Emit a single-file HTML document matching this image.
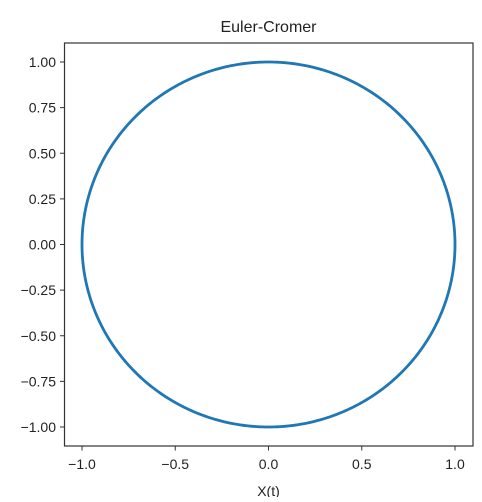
<!DOCTYPE html>
<html><head><style>
body{margin:0;background:#fff;}
svg text{font-family:"Liberation Sans","DejaVu Sans",sans-serif;fill:#222;}
</style></head><body>
<svg width="482" height="497">
<text x="268.5" y="32" font-size="16" text-anchor="middle">Euler-Cromer</text>
<g id="ticks"></g>
<path id="orbit" fill="none" stroke="#1f77b4" stroke-width="2.8"/>
<rect x="64.5" y="43" width="408.5" height="403" fill="none" stroke="#333" stroke-width="1.2"/>
<text x="268.5" y="496" font-size="14" text-anchor="middle">X(t)</text>
</svg>
<script>
const xTicks=[-1.0,-0.5,0.0,0.5,1.0];
const xTickLabels=["−1.0","−0.5","0.0","0.5","1.0"];
const yTicks=[1.0,0.75,0.5,0.25,0.0,-0.25,-0.5,-0.75,-1.0];
const yTickLabels=["1.00","0.75","0.50","0.25","0.00","−0.25","−0.50","−0.75","−1.00"];
const radius=[1.0];
const nPoints=[400];
function sx(v){return 268.5+v*186.5;}
function sy(v){return 244.5-v*182.5;}
const g=document.getElementById('ticks');
const NS='http://www.w3.org/2000/svg';
xTicks.forEach((v,i)=>{
 const l=document.createElementNS(NS,'line');
 l.setAttribute('x1',sx(v));l.setAttribute('x2',sx(v));l.setAttribute('y1',446);l.setAttribute('y2',450.5);
 l.setAttribute('stroke','#333');
 
 
 g.appendChild(l);
 const t=document.createElementNS(NS,'text');
 t.setAttribute('x',sx(v));t.setAttribute('y',469);t.setAttribute('font-size','14');t.setAttribute('text-anchor','middle');
 t.textContent=xTickLabels[i];
 
 
 g.appendChild(t);
});
yTicks.forEach((v,i)=>{
 const l=document.createElementNS(NS,'line');
 l.setAttribute('x1',60);l.setAttribute('x2',64.5);l.setAttribute('y1',sy(v));l.setAttribute('y2',sy(v));
 l.setAttribute('stroke','#333');
 
 
 g.appendChild(l);
 const t=document.createElementNS(NS,'text');
 t.setAttribute('x',56);t.setAttribute('y',sy(v)+5);t.setAttribute('font-size','14');t.setAttribute('text-anchor','end');
 t.textContent=yTickLabels[i];
 
 
 g.appendChild(t);
});
let d='';
const r=radius[0],n=nPoints[0];
for(let k=0;k<=n;k++){const a=2*Math.PI*k/n;d+=(k?'L':'M')+sx(r*Math.cos(a)).toFixed(2)+' '+sy(r*Math.sin(a)).toFixed(2);}
document.getElementById('orbit').setAttribute('d',d);
</script>
</body></html>
